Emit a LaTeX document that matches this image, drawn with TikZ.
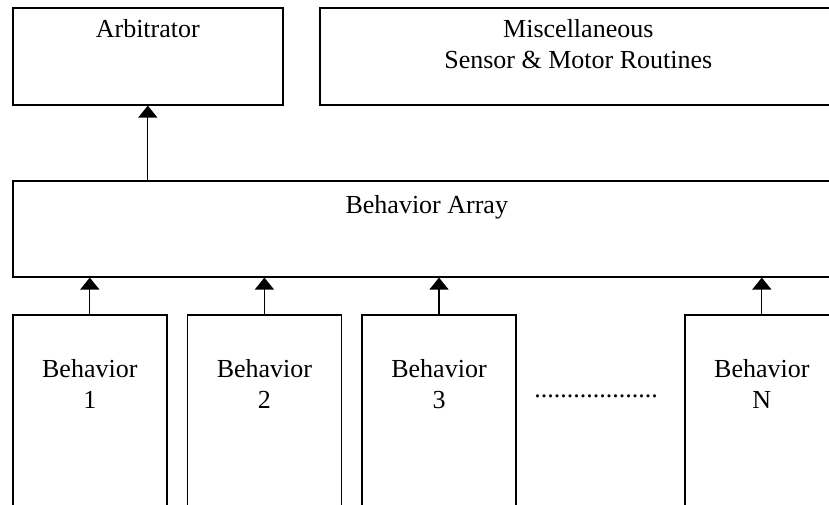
\documentclass[tikz,border=0pt]{standalone}
\usepackage{fontspec}
\setmainfont{Liberation Serif}
\usetikzlibrary{positioning,arrows.meta}

\begin{document}
\begin{tikzpicture}[x=1pt, y=-1pt,
% node style
box/.style={rectangle, draw=black, line width=1.6pt, inner sep=0pt},
beh/.style={box, minimum width=154pt, minimum height=230pt},
txt/.style={inner sep=0pt, align=center, font=\fontsize{26}{31}\selectfont},
arr/.style={-{Triangle[width=19pt,length=12pt]}, line width=1.3pt}
]

\useasboundingbox (0,0) rectangle (829,505);
\clip (0,0) rectangle (829,505);

% nodes
\node[box, minimum width=270pt, minimum height=97pt, anchor=north west] (arb) at (12,7) {};
\node[box, minimum width=517pt, minimum height=97pt, anchor=north west] (misc) at (319,7) {};
\node[box, minimum width=828pt, minimum height=96pt, anchor=north west] (array) at (12,180) {};

\node[beh, anchor=north west] (b1) at (12,314) {};
\node[beh] (b2) [right=19pt of b1] {};
\node[beh] (b3) [right=19pt of b2] {};
\node[beh, anchor=north west] (bn) at (684,314) {};

% texts
\node[txt, anchor=north] (arb_t) at ([yshift=-12pt]arb.north) {Arbitrator};
\node[txt, anchor=north] (misc_t) at ([yshift=-12pt]misc.north) {Miscellaneous\\Sensor \& Motor Routines};
\node[txt, anchor=north] (array_t) at ([yshift=-15pt]array.north) {Behavior Array};
\node[txt, anchor=north] (b1_t) at ([yshift=-45pt]b1.north) {Behavior\\1};
\node[txt, anchor=north] (b2_t) at ([yshift=-45pt]b2.north) {Behavior\\2};
\node[txt, anchor=north] (b3_t) at ([yshift=-45pt]b3.north) {Behavior\\3};
\node[txt, anchor=north] (bn_t) at ([yshift=-45pt]bn.north) {Behavior\\N};
\node[txt, anchor=base] (dots) at (596,397) {...................};

% draw lines between nodes
\draw[arr] (array.north -| arb) -- (arb.south);
\draw[arr] (b1.north) -- (b1.north |- array.south);
\draw[arr] (b2.north) -- (b2.north |- array.south);
\draw[arr] (b3.north) -- (b3.north |- array.south);
\draw[arr] (bn.north) -- (bn.north |- array.south);

\end{tikzpicture}
\end{document}
